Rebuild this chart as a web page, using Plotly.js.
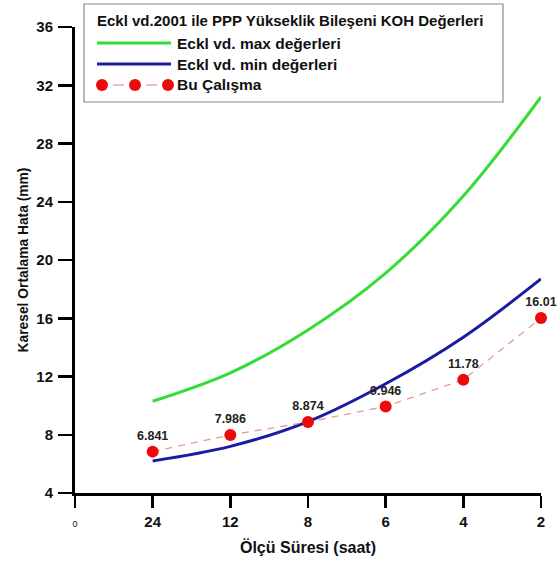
<!DOCTYPE html>
<html>
<head>
<meta charset="utf-8">
<script src="https://cdn.plot.ly/plotly-3.0.1.min.js"></script>
<style>html,body{margin:0;padding:0;background:#fff;}#chart{width:560px;height:565px;}</style>
</head>
<body>
<div id="chart"></div>
<script>
// ---- data ----
const categories = ['0', '24', '12', '8', '6', '4', '2'];
const seriesX = ['24', '12', '8', '6', '4', '2'];
const ecklMax = [10.3, 12.25, 15.2, 19.1, 24.4, 31.2];
const ecklMin = [6.2, 7.2, 8.9, 11.5, 14.7, 18.7];
const buCalisma = [6.841, 7.986, 8.874, 9.946, 11.78, 16.01];
const tickTextX = ['<span style="font-size:9px;font-weight:normal">0</span>', '24', '12', '8', '6', '4', '2'];
const legendTitle = 'Eckl vd.2001 ile PPP Yükseklik Bileşeni KOH Değerleri';
const legendNames = ['Eckl vd. max değerleri', 'Eckl vd. min değerleri', 'Bu Çalışma'];

const FONT = 'Liberation Sans, Arial, sans-serif';
const GREEN = '#35dc35';
const BLUE = '#1a1aa6';
const RED = '#ee0a0a';
const DASHCOL = 'rgba(215,140,140,0.85)';

const traces = [
  {x: seriesX, y: ecklMax, type: 'scatter', mode: 'lines', name: legendNames[0],
   line: {color: GREEN, width: 3, shape: 'spline', smoothing: 1}},
  {x: seriesX, y: ecklMin, type: 'scatter', mode: 'lines', name: legendNames[1],
   line: {color: BLUE, width: 3, shape: 'spline', smoothing: 1}},
  {x: seriesX, y: buCalisma, type: 'scatter', mode: 'lines+markers+text', name: legendNames[2],
   line: {color: DASHCOL, width: 1.3, dash: '7px,6px'},
   marker: {color: RED, size: 12},
   text: buCalisma.map(v => String(v)), textposition: 'top center',
   textfont: {family: FONT, size: 12.5, color: '#222', weight: 'bold'},
   cliponaxis: false}
];

// custom legend (paper coordinates; plot area is 466 x 466 px)
const px = v => (v - 75) / 466;
const py = v => (493 - v) / 466;
const rowMax = 43, rowMin = 64, rowRed = 85;
const shapes = [
  {type: 'rect', xref: 'paper', yref: 'paper', x0: px(84), x1: px(503), y0: py(102), y1: py(4),
   line: {color: '#8a8a8a', width: 1.2}, fillcolor: 'rgba(255,255,255,0)'},
  {type: 'line', xref: 'paper', yref: 'paper', x0: px(97), x1: px(171), y0: py(rowMax), y1: py(rowMax),
   line: {color: GREEN, width: 3}},
  {type: 'line', xref: 'paper', yref: 'paper', x0: px(97), x1: px(171), y0: py(rowMin), y1: py(rowMin),
   line: {color: BLUE, width: 3}},
  {type: 'line', xref: 'paper', yref: 'paper', x0: px(113), x1: px(124), y0: py(rowRed), y1: py(rowRed),
   line: {color: DASHCOL, width: 1.3}},
  {type: 'line', xref: 'paper', yref: 'paper', x0: px(146), x1: px(157), y0: py(rowRed), y1: py(rowRed),
   line: {color: DASHCOL, width: 1.3}}
];
[102, 135, 168].forEach(cx => {
  shapes.push({type: 'circle', xref: 'paper', yref: 'paper',
    x0: px(cx - 6), x1: px(cx + 6), y0: py(rowRed + 6), y1: py(rowRed - 6),
    fillcolor: RED, line: {color: RED, width: 0}});
});

const annFont = {family: FONT, size: 15.5, color: '#111', weight: 'bold'};
const annotations = [
  {xref: 'paper', yref: 'paper', x: px(95), y: py(20), xanchor: 'left', yanchor: 'middle',
   text: legendTitle, showarrow: false, font: {family: FONT, size: 15, color: '#111', weight: 'bold'}},
  {xref: 'paper', yref: 'paper', x: px(175), y: py(rowMax), xanchor: 'left', yanchor: 'middle',
   text: legendNames[0], showarrow: false, font: annFont},
  {xref: 'paper', yref: 'paper', x: px(175), y: py(rowMin), xanchor: 'left', yanchor: 'middle',
   text: legendNames[1], showarrow: false, font: annFont},
  {xref: 'paper', yref: 'paper', x: px(175), y: py(rowRed), xanchor: 'left', yanchor: 'middle',
   text: legendNames[2], showarrow: false, font: annFont}
];

const layout = {
  width: 560, height: 565,
  margin: {l: 75, r: 19, t: 27, b: 72},
  paper_bgcolor: '#fff', plot_bgcolor: '#fff',
  showlegend: false,
  font: {family: FONT, color: '#111'},
  xaxis: {
    type: 'category', categoryorder: 'array', categoryarray: categories,
    range: [0, 6], tickmode: 'array', tickvals: categories, ticktext: tickTextX,
    showgrid: false, zeroline: false, showline: true, linecolor: '#000', linewidth: 3,
    ticks: 'outside', ticklen: 12, tickwidth: 2.5, tickcolor: '#000',
    tickfont: {family: FONT, size: 15, color: '#111', weight: 'bold'},
    ticklabelstandoff: 1,
    title: {text: 'Ölçü Süresi (saat)', font: {family: FONT, size: 16, color: '#111', weight: 'bold'}, standoff: 13},
    fixedrange: true
  },
  yaxis: {
    range: [4, 36], tickmode: 'linear', tick0: 4, dtick: 4,
    showgrid: false, zeroline: false, showline: true, linecolor: '#000', linewidth: 3,
    ticks: 'outside', ticklen: 14, tickwidth: 2.5, tickcolor: '#000',
    tickfont: {family: FONT, size: 15, color: '#111', weight: 'bold'},
    ticklabelstandoff: 2,
    title: {text: 'Karesel Ortalama Hata (mm)', font: {family: FONT, size: 13.8, color: '#111', weight: 'bold'}, standoff: 5},
    fixedrange: true
  },
  shapes: shapes,
  annotations: annotations
};

Plotly.newPlot('chart', traces, layout, {displayModeBar: false, staticPlot: true});
</script>
</body>
</html>
